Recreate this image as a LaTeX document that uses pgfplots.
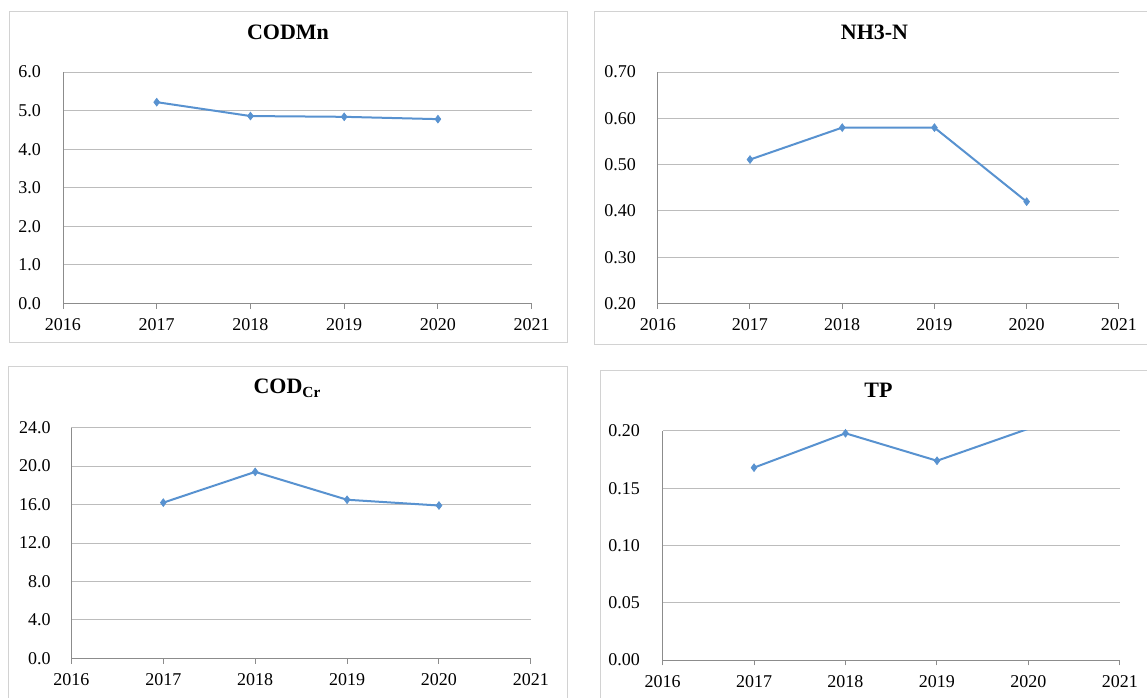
\documentclass[border=0pt]{standalone}
\usepackage{fontspec}
\setmainfont{Liberation Serif}
\usepackage{pgfplots}
\pgfplotsset{compat=1.18}
\definecolor{lineblue}{RGB}{88,146,208}
\definecolor{gridgrey}{RGB}{188,188,188}
\definecolor{axisgrey}{RGB}{140,140,140}
\definecolor{framegrey}{RGB}{210,210,210}
\pgfplotsset{
 panel/.style={
  scale only axis,
  xmin=2016, xmax=2021,
  xtick={2016,...,2021},
  axis x line*=bottom, axis y line*=left,
  axis line style={draw=axisgrey, line width=0.75pt, -},
  ymajorgrids, grid style={draw=gridgrey, line width=0.75pt},
  tick align=outside,
  xtick style={draw=axisgrey, line width=0.75pt},
  major tick length=4pt,
  ytick style={draw=none},
  tick label style={font=\fontsize{13.5}{16}\selectfont, text=black},
  xticklabel style={/pgf/number format/1000 sep={}, yshift=-4pt},
  /pgf/number format/assume math mode=true,
  title style={font=\fontsize{16.5}{20}\selectfont\bfseries, anchor=base},
  clip mode=individual,
 },
 ser/.style={color=lineblue, line width=1.5pt, mark=diamond*, mark size=2.9pt,
   mark options={fill=lineblue, draw=lineblue, line width=0.5pt}},
}
\begin{document}
\begin{tikzpicture}
\useasboundingbox (0,0) rectangle (860.25pt,522.75pt);
\fill[white] (0,0) rectangle (860.25pt,522.75pt);
% frames
\draw[framegrey, line width=0.75pt] (6.75pt,513.75pt) rectangle (425.25pt,265.5pt);
\draw[framegrey, line width=0.75pt] (445.9pt,513.75pt) rectangle (866.25pt,264pt);
\draw[framegrey, line width=0.75pt] (6pt,247.5pt) rectangle (425.25pt,-10pt);
\draw[framegrey, line width=0.75pt] (450pt,244.7pt) rectangle (867.75pt,-10pt);

% CODMn
\begin{axis}[panel, at={(47.25pt,295.1pt)}, anchor=south west,
  width=351.5pt, height=173.6pt,
  ymin=0, ymax=6, ytick={0,1,...,6},
  yticklabel style={/pgf/number format/.cd, fixed, fixed zerofill, precision=1, /tikz/.cd, xshift=-9pt},
  title={CODMn}, title style={at={(0.48,1)}, yshift=18.5pt}]
\addplot[ser] coordinates {(2017,5.22) (2018,4.86) (2019,4.84) (2020,4.78)};
\end{axis}

% NH3-N
\begin{axis}[panel, at={(493.35pt,295.1pt)}, anchor=south west,
  width=345.8pt, height=173.6pt,
  ymin=0.2, ymax=0.7, ytick={0.2,0.3,...,0.71},
  yticklabel style={/pgf/number format/.cd, fixed, fixed zerofill, precision=2, /tikz/.cd, xshift=-9pt},
  title={NH3-N}, title style={at={(0.47,1)}, yshift=18.5pt}]
\addplot[ser] coordinates {(2017,0.511) (2018,0.58) (2019,0.58) (2020,0.42)};
\end{axis}

% CODCr
\begin{axis}[panel, at={(53.55pt,29.0pt)}, anchor=south west,
  width=344.6pt, height=173pt,
  ymin=0, ymax=24, ytick={0,4,...,24},
  yticklabel style={/pgf/number format/.cd, fixed, fixed zerofill, precision=1, /tikz/.cd, xshift=-8pt},
  title={COD\textsubscript{Cr}}, title style={at={(0.47,1)}, yshift=19.5pt}]
\addplot[ser] coordinates {(2017,16.2) (2018,19.4) (2019,16.5) (2020,15.9)};
\end{axis}

% TP
\begin{axis}[panel, at={(496.9pt,27.75pt)}, anchor=south west,
  width=343.1pt, height=171.75pt,
  ymin=0, ymax=0.2, ytick={0,0.05,...,0.201},
  yticklabel style={/pgf/number format/.cd, fixed, fixed zerofill, precision=2, /tikz/.cd, xshift=-9.5pt},
  title={TP}, title style={at={(0.472,1)}, yshift=19.5pt}]
\addplot[ser] coordinates {(2017,0.168) (2018,0.198) (2019,0.174) (2020,0.202)};
\end{axis}
\end{tikzpicture}
\end{document}
